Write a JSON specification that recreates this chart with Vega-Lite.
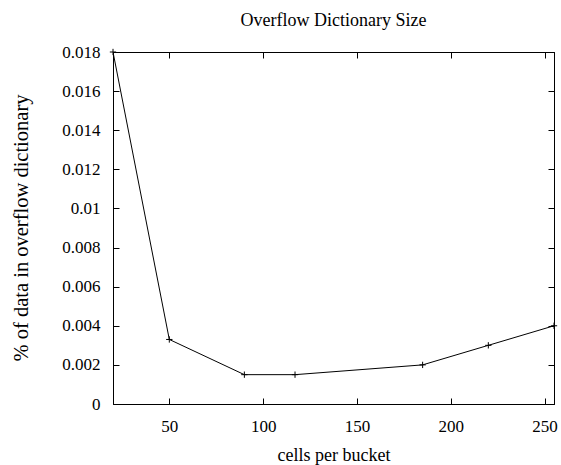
{
  "$schema": "https://vega.github.io/schema/vega-lite/v6.json",
  "width": 441,
  "height": 352,
  "autosize": {"type": "none"},
  "padding": {"left": 113, "top": 52, "right": 7, "bottom": 61},
  "background": "white",
  "title": {
    "text": "Overflow Dictionary Size",
    "font": "Liberation Serif",
    "fontSize": 18,
    "fontWeight": "normal",
    "color": "black",
    "anchor": "middle",
    "offset": 13
  },
  "data": {
    "values": [
      {"cells": 20, "pct": 0.018},
      {"cells": 50, "pct": 0.0033},
      {"cells": 90, "pct": 0.0015},
      {"cells": 117, "pct": 0.0015},
      {"cells": 185, "pct": 0.002},
      {"cells": 220, "pct": 0.003},
      {"cells": 255, "pct": 0.004}
    ]
  },
  "config": {
    "view": {"stroke": "black", "strokeWidth": 1},
    "axis": {
      "grid": false,
      "domainColor": "black",
      "domainWidth": 1,
      "tickColor": "black",
      "tickWidth": 1,
      "labelColor": "black",
      "labelFont": "Liberation Serif",
      "labelFontSize": 17,
      "titleFont": "Liberation Serif",
      "titleFontSize": 18,
      "titleFontWeight": "normal",
      "titleColor": "black",
      "labelFlush": false,
      "labelOverlap": false
    }
  },
  "layer": [
    {
      "mark": {"type": "line", "color": "black", "strokeWidth": 1, "clip": true},
      "encoding": {
        "x": {
          "field": "cells",
          "type": "quantitative",
          "scale": {"domain": [20, 255], "nice": false, "zero": false},
          "axis": {
            "orient": "bottom",
            "values": [50, 100, 150, 200, 250],
            "tickSize": -6,
            "labelPadding": 20,
            "title": "cells per bucket",
            "titleX": 220.5,
            "titleY": 56,
            "titleAnchor": null,
            "titleAlign": "center",
            "titleBaseline": "alphabetic"
          }
        },
        "y": {
          "field": "pct",
          "type": "quantitative",
          "scale": {"domain": [0, 0.018], "nice": false, "zero": true},
          "axis": {
            "orient": "left",
            "values": [0, 0.002, 0.004, 0.006, 0.008, 0.01, 0.012, 0.014, 0.016, 0.018],
            "format": "~g",
            "tickSize": -6,
            "labelPadding": 19,
            "title": "% of data in overflow dictionary",
            "titleFontSize": 20.5,
            "titleAngle": 270,
            "titleX": -92,
            "titleY": 175.5,
            "titleAlign": "center",
            "titleBaseline": "middle"
          }
        }
      }
    },
    {
      "mark": {
        "type": "point",
        "shape": "M-1,0L1,0M0,-1L0,1",
        "filled": false,
        "stroke": "black",
        "strokeWidth": 1,
        "size": 40,
        "opacity": 1
      },
      "encoding": {
        "x": {
          "field": "cells",
          "type": "quantitative",
          "axis": {
            "orient": "top",
            "values": [50, 100, 150, 200, 250],
            "tickSize": -6,
            "labels": false,
            "title": null
          }
        },
        "y": {
          "field": "pct",
          "type": "quantitative",
          "axis": {
            "orient": "right",
            "values": [0, 0.002, 0.004, 0.006, 0.008, 0.01, 0.012, 0.014, 0.016, 0.018],
            "tickSize": -6,
            "labels": false,
            "title": null
          }
        }
      }
    }
  ]
}
